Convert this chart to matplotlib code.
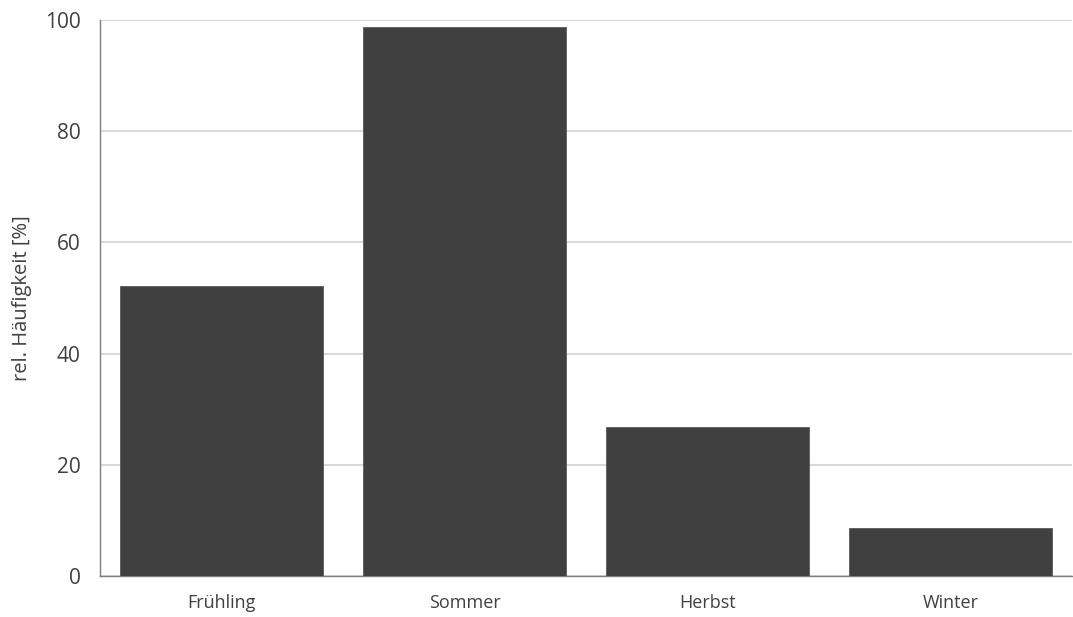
import matplotlib.pyplot as plt

plt.rcParams['font.family'] = ['Open Sans', 'DejaVu Sans']

seasons = ['Frühling', 'Sommer', 'Herbst', 'Winter']
rel_freq = [52.2, 98.7, 26.8, 8.6]
y_ticks = [0, 20, 40, 60, 80, 100]

text_col = '#404040'

fig = plt.figure(figsize=(10.73, 6.17), dpi=100)
ax = fig.add_axes([100 / 1073, 41 / 617, 972 / 1073, 556 / 617])

ax.bar(range(len(seasons)), rel_freq, width=203 / 243, color='#404040',
       edgecolor='#5a5a5a', linewidth=0.6, zorder=3)

ax.set_xlim(-0.5, len(seasons) - 0.5)
ax.set_ylim(0, 100)
ax.set_yticks(y_ticks)
ax.set_xticks(range(len(seasons)))
ax.set_xticklabels(seasons, fontsize=13, color=text_col)
ax.tick_params(axis='y', labelsize=15, labelcolor=text_col, length=0, pad=14)
ax.tick_params(axis='x', length=0, pad=13)

ax.grid(axis='y', color='#d9d9d9', linewidth=1.5, zorder=0)
ax.set_axisbelow(True)

for s in ['top', 'right']:
    ax.spines[s].set_visible(False)
for s in ['left', 'bottom']:
    ax.spines[s].set_color('#7f7f7f')
    ax.spines[s].set_linewidth(1.0)

ax.set_ylabel('rel. Häufigkeit [%]', fontsize=14.5, color=text_col)
ax.yaxis.set_label_coords(-68 / 972, 0.5)

fig.savefig('out.png', dpi=100)
